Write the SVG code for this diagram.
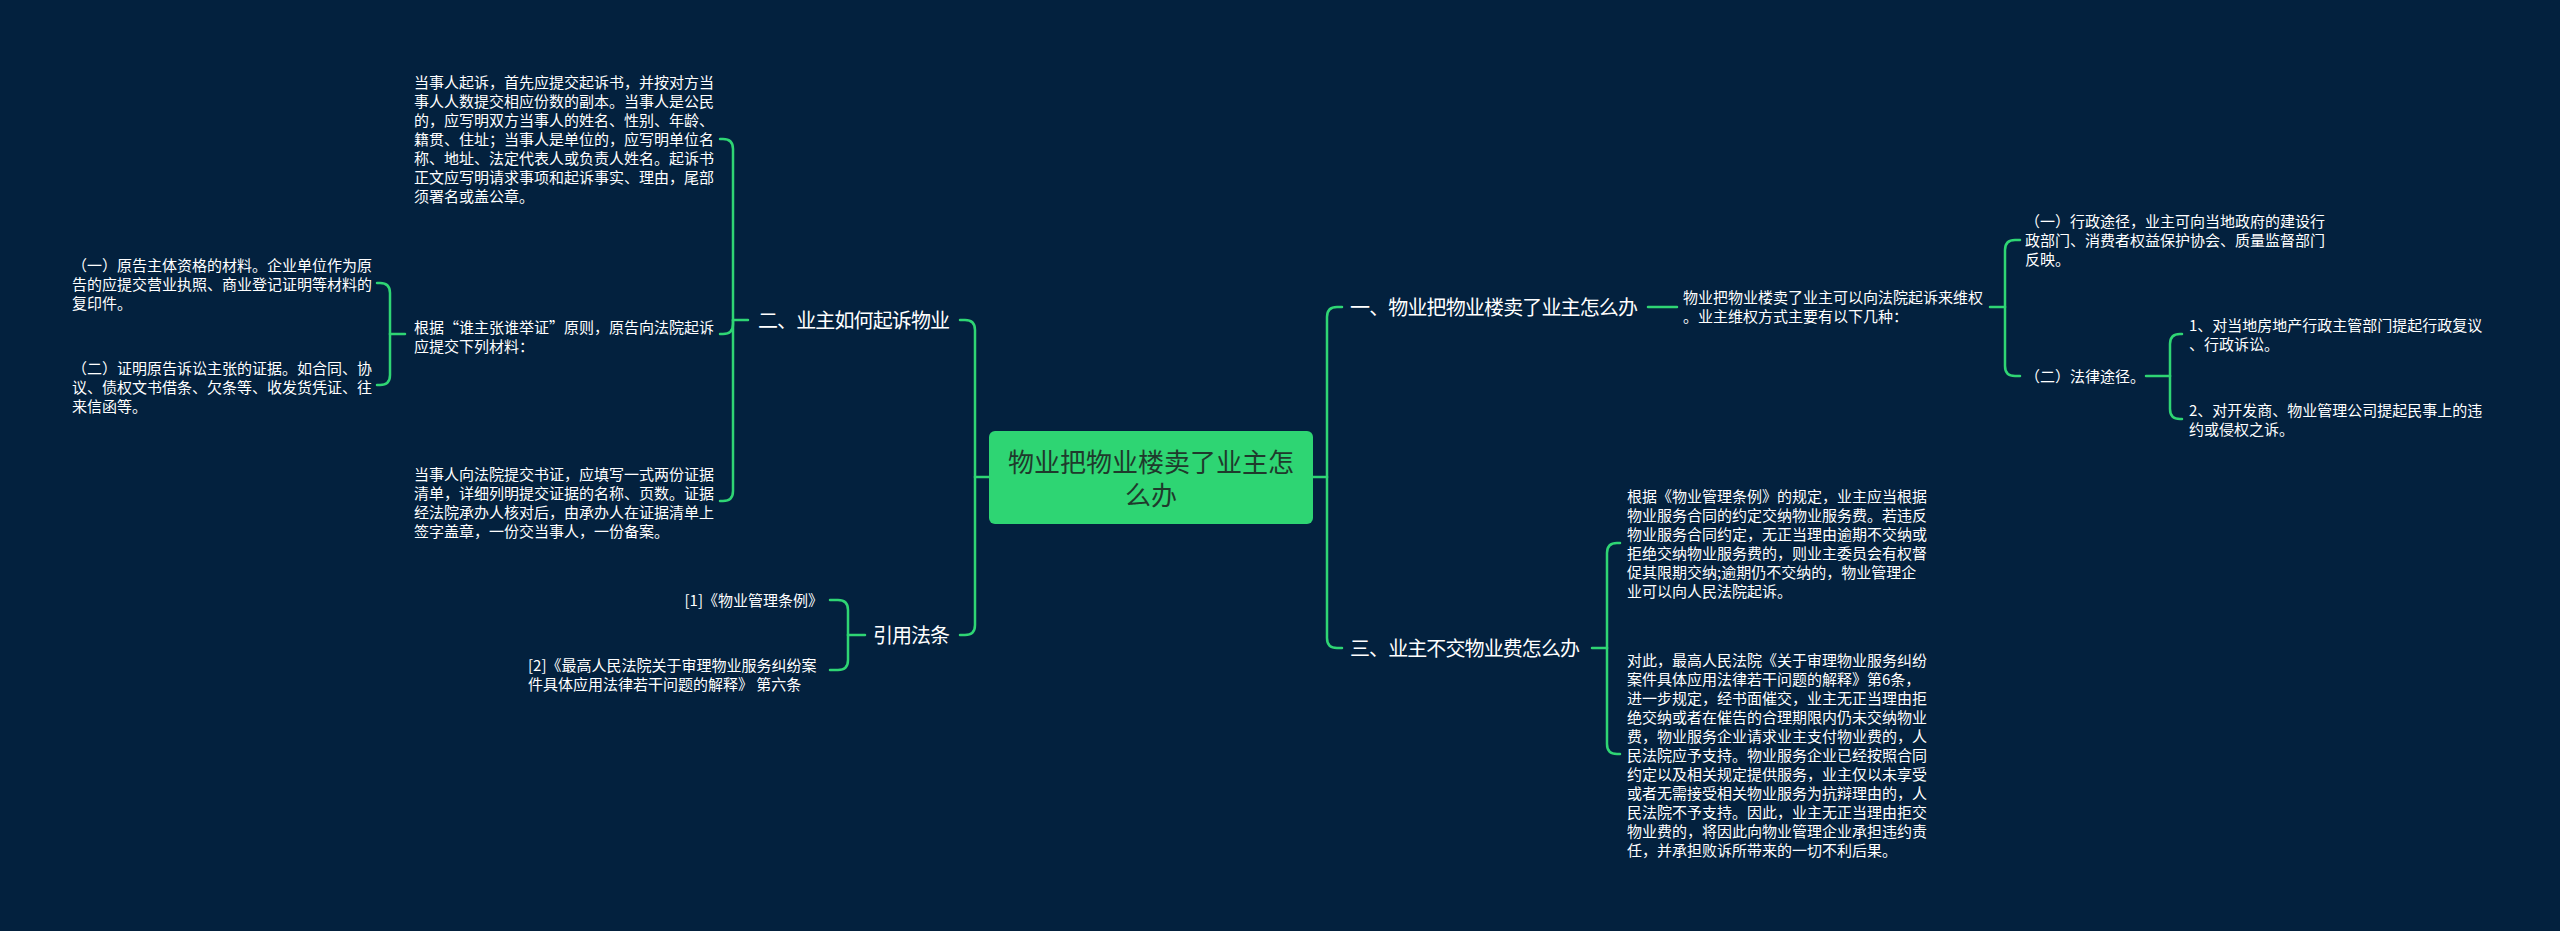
<svg xmlns="http://www.w3.org/2000/svg" width="2560" height="931" viewBox="0 0 2560 931">
<style>
.bg{fill:#03213e}
.c{fill:none;stroke:#2fd574;stroke-width:2.5;stroke-linecap:round}
.t{font-family:"Noto Sans CJK SC","Noto Sans",sans-serif;font-size:15px;fill:#ffffff}
.b{font-family:"Noto Sans CJK SC","Noto Sans",sans-serif;font-size:20px;fill:#ffffff}
.r{font-family:"Noto Sans CJK SC","Noto Sans",sans-serif;font-size:26px;fill:#1f3a2c}
</style>
<rect class="bg" x="0" y="0" width="2560" height="931"/>
<g id="connectors">
<path class="c" d="M989,477 L975,477"/>
<path class="c" d="M975,477 L975,330 Q975,320 965,320 L960,320"/>
<path class="c" d="M975,477 L975,625 Q975,635 965,635 L960,635"/>
<path class="c" d="M1313,477 L1327,477"/>
<path class="c" d="M1327,477 L1327,317 Q1327,307 1337,307 L1342,307"/>
<path class="c" d="M1327,477 L1327,638 Q1327,648 1337,648 L1342,648"/>
<path class="c" d="M748,320 L733,320"/>
<path class="c" d="M733,320 L733,149 Q733,139 723,139 L720,139"/>
<path class="c" d="M733,320 L733,324 Q733,334 723,334 L720,334"/>
<path class="c" d="M733,320 L733,491 Q733,501 723,501 L720,501"/>
<path class="c" d="M405,334 L390,334"/>
<path class="c" d="M390,334 L390,293 Q390,283 380,283 L377,283"/>
<path class="c" d="M390,334 L390,375 Q390,385 380,385 L377,385"/>
<path class="c" d="M865,635 L848,635"/>
<path class="c" d="M848,635 L848,610 Q848,600 838,600 L830,600"/>
<path class="c" d="M848,635 L848,660 Q848,670 838,670 L830,670"/>
<path class="c" d="M1648,307 L1677,307"/>
<path class="c" d="M1990,307 L2005,307"/>
<path class="c" d="M2005,307 L2005,250 Q2005,240 2015,240 L2020,240"/>
<path class="c" d="M2005,307 L2005,366 Q2005,376 2015,376 L2020,376"/>
<path class="c" d="M2146,376 L2170,376"/>
<path class="c" d="M2170,376 L2170,344 Q2170,334 2180,334 L2182,334"/>
<path class="c" d="M2170,376 L2170,409 Q2170,419 2180,419 L2182,419"/>
<path class="c" d="M1592,648 L1607,648"/>
<path class="c" d="M1607,648 L1607,553 Q1607,543 1617,543 L1620,543"/>
<path class="c" d="M1607,648 L1607,744 Q1607,754 1617,754 L1620,754"/>
</g>
<g id="root">
<rect x="989" y="431" width="324" height="93" rx="6" fill="#2ed573"/>
<text class="r" x="1151" y="471.5" text-anchor="middle">物业把物业楼卖了业主怎</text>
<text class="r" x="1151" y="504.5" text-anchor="middle">么办</text>
</g>
<g id="branch-2">
<text class="b" x="758" y="327.5" textLength="192" lengthAdjust="spacing">二、业主如何起诉物业</text>
</g>
<g id="leaf-2a">
<text class="t" x="414" y="87.5">当事人起诉，首先应提交起诉书，并按对方当</text>
<text class="t" x="414" y="106.5">事人人数提交相应份数的副本。当事人是公民</text>
<text class="t" x="414" y="125.5">的，应写明双方当事人的姓名、性别、年龄、</text>
<text class="t" x="414" y="144.5">籍贯、住址；当事人是单位的，应写明单位名</text>
<text class="t" x="414" y="163.5">称、地址、法定代表人或负责人姓名。起诉书</text>
<text class="t" x="414" y="182.5">正文应写明请求事项和起诉事实、理由，尾部</text>
<text class="t" x="414" y="201.5">须署名或盖公章。</text>
</g>
<g id="leaf-2b">
<text class="t" x="414" y="332.5">根据“谁主张谁举证”原则，原告向法院起诉</text>
<text class="t" x="414" y="351.5">应提交下列材料：</text>
</g>
<g id="leaf-2b1">
<text class="t" x="72" y="270.5">（一）原告主体资格的材料。企业单位作为原</text>
<text class="t" x="72" y="289.5">告的应提交营业执照、商业登记证明等材料的</text>
<text class="t" x="72" y="308.5">复印件。</text>
</g>
<g id="leaf-2b2">
<text class="t" x="72" y="373.5">（二）证明原告诉讼主张的证据。如合同、协</text>
<text class="t" x="72" y="392.5">议、债权文书借条、欠条等、收发货凭证、往</text>
<text class="t" x="72" y="411.5">来信函等。</text>
</g>
<g id="leaf-2c">
<text class="t" x="414" y="479.5">当事人向法院提交书证，应填写一式两份证据</text>
<text class="t" x="414" y="498.5">清单，详细列明提交证据的名称、页数。证据</text>
<text class="t" x="414" y="517.5">经法院承办人核对后，由承办人在证据清单上</text>
<text class="t" x="414" y="536.5">签字盖章，一份交当事人，一份备案。</text>
</g>
<g id="branch-law">
<text class="b" x="873" y="642.5" textLength="77" lengthAdjust="spacing">引用法条</text>
</g>
<g id="law-1">
<text class="t" x="823" y="605.5" text-anchor="end">[1]《物业管理条例》</text>
</g>
<g id="law-2">
<text class="t" x="528" y="670.5">[2]《最高人民法院关于审理物业服务纠纷案</text>
<text class="t" x="528" y="689.5">件具体应用法律若干问题的解释》 第六条</text>
</g>
<g id="branch-1">
<text class="b" x="1350" y="314.5" textLength="288" lengthAdjust="spacing">一、物业把物业楼卖了业主怎么办</text>
</g>
<g id="leaf-1">
<text class="t" x="1683" y="302.5">物业把物业楼卖了业主可以向法院起诉来维权</text>
<text class="t" x="1683" y="321.5">。业主维权方式主要有以下几种：</text>
</g>
<g id="leaf-1a">
<text class="t" x="2025" y="226.5">（一）行政途径，业主可向当地政府的建设行</text>
<text class="t" x="2025" y="245.5">政部门、消费者权益保护协会、质量监督部门</text>
<text class="t" x="2025" y="264.5">反映。</text>
</g>
<g id="leaf-1b">
<text class="t" x="2025" y="381.5">（二）法律途径。</text>
</g>
<g id="leaf-1b1">
<text class="t" x="2189" y="330.5">1、对当地房地产行政主管部门提起行政复议</text>
<text class="t" x="2189" y="349.5">、行政诉讼。</text>
</g>
<g id="leaf-1b2">
<text class="t" x="2189" y="415.5">2、对开发商、物业管理公司提起民事上的违</text>
<text class="t" x="2189" y="434.5">约或侵权之诉。</text>
</g>
<g id="branch-3">
<text class="b" x="1350" y="655.5" textLength="230" lengthAdjust="spacing">三、业主不交物业费怎么办</text>
</g>
<g id="leaf-3a">
<text class="t" x="1627" y="501.5">根据《物业管理条例》的规定，业主应当根据</text>
<text class="t" x="1627" y="520.5">物业服务合同的约定交纳物业服务费。若违反</text>
<text class="t" x="1627" y="539.5">物业服务合同约定，无正当理由逾期不交纳或</text>
<text class="t" x="1627" y="558.5">拒绝交纳物业服务费的，则业主委员会有权督</text>
<text class="t" x="1627" y="577.5">促其限期交纳;逾期仍不交纳的，物业管理企</text>
<text class="t" x="1627" y="596.5">业可以向人民法院起诉。</text>
</g>
<g id="leaf-3b">
<text class="t" x="1627" y="665.5">对此，最高人民法院《关于审理物业服务纠纷</text>
<text class="t" x="1627" y="684.5">案件具体应用法律若干问题的解释》第6条，</text>
<text class="t" x="1627" y="703.5">进一步规定，经书面催交，业主无正当理由拒</text>
<text class="t" x="1627" y="722.5">绝交纳或者在催告的合理期限内仍未交纳物业</text>
<text class="t" x="1627" y="741.5">费，物业服务企业请求业主支付物业费的，人</text>
<text class="t" x="1627" y="760.5">民法院应予支持。物业服务企业已经按照合同</text>
<text class="t" x="1627" y="779.5">约定以及相关规定提供服务，业主仅以未享受</text>
<text class="t" x="1627" y="798.5">或者无需接受相关物业服务为抗辩理由的，人</text>
<text class="t" x="1627" y="817.5">民法院不予支持。因此，业主无正当理由拒交</text>
<text class="t" x="1627" y="836.5">物业费的，将因此向物业管理企业承担违约责</text>
<text class="t" x="1627" y="855.5">任，并承担败诉所带来的一切不利后果。</text>
</g>
</svg>
